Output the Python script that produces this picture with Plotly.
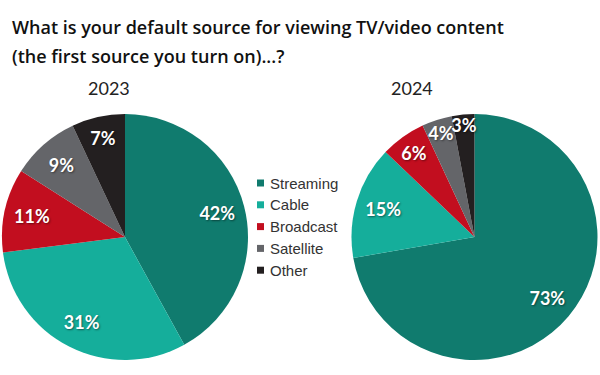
import plotly.graph_objects as go

labels = ["Streaming", "Cable", "Broadcast", "Satellite", "Other"]
values_2023 = [42, 31, 11, 9, 7]
values_2024 = [73, 15, 6, 4, 3]
colors = ["#107B6E", "#15AE9B", "#C20E1F", "#646569", "#231F20"]
years = ["2023", "2024"]
title_lines = ["What is your default source for viewing TV/video content",
               "(the first source you turn on)...?"]

W, H = 600, 375
fig = go.Figure()

pct_font = dict(family="Lato, 'Noto Sans', sans-serif", size=18, color="white",
                weight="bold", shadow="1px 1px 2px rgba(0,0,0,0.45)")

domains = [dict(x=[2 / W, 248 / W], y=[1 - 360 / H, 1 - 114 / H]),
           dict(x=[351 / W, 598 / W], y=[1 - 360 / H, 1 - 114 / H])]

for vals, dom, yr in zip([values_2023, values_2024], domains, years):
    # coloured slices
    fig.add_trace(go.Pie(
        labels=labels, values=vals, domain=dom, name=yr,
        sort=False, direction="clockwise", rotation=0,
        marker=dict(colors=colors, line=dict(width=0)),
        textinfo="none", showlegend=False, hoverinfo="label+value",
    ))
    # transparent ring overlay carrying the percentage labels (places them near the rim)
    fig.add_trace(go.Pie(
        labels=labels, values=vals, domain=dom, name=yr, hole=0.55,
        sort=False, direction="clockwise", rotation=0,
        marker=dict(colors=["rgba(0,0,0,0)"] * len(labels), line=dict(width=0)),
        texttemplate="%{value}%", textposition="inside",
        insidetextorientation="horizontal", textfont=pct_font,
        showlegend=False, hoverinfo="skip",
    ))

fig.update_layout(uniformtext=dict(minsize=18, mode="show"))

annotations = []
# title
for line, yc in zip(title_lines, [27, 56]):
    annotations.append(dict(text=line, xref="paper", yref="paper", x=10 / W, y=1 - yc / H,
                            xanchor="left", yanchor="middle", showarrow=False,
                            font=dict(family="'Open Sans', sans-serif", size=18, color="#111111",
                                      weight=600)))
# year labels
for yr, xc in zip(years, [109, 412]):
    annotations.append(dict(text=yr, xref="paper", yref="paper", x=xc / W, y=1 - 88 / H,
                            xanchor="center", yanchor="middle", showarrow=False,
                            font=dict(family="Lato, sans-serif", size=18, color="#222222")))

# custom legend
shapes = []
row0, gap = 183, 21.8
for i, (lab, col) in enumerate(zip(labels, colors)):
    yc = row0 + i * gap
    shapes.append(dict(type="rect", xref="paper", yref="paper",
                       x0=257 / W, x1=264 / W, y0=1 - (yc + 3.5) / H, y1=1 - (yc - 3.5) / H,
                       fillcolor=col, line=dict(width=0)))
    annotations.append(dict(text=lab, xref="paper", yref="paper", x=268 / W, y=1 - yc / H,
                            xanchor="left", yanchor="middle", showarrow=False,
                            font=dict(family="'Liberation Sans', Arial, sans-serif", size=15,
                                      color="#333333")))

fig.update_layout(width=W, height=H, margin=dict(l=0, r=0, t=0, b=0),
                  paper_bgcolor="white", plot_bgcolor="white",
                  annotations=annotations, shapes=shapes)

fig.write_html("out.html", config={"displayModeBar": False},
               post_script="document.body.style.margin='0';")
